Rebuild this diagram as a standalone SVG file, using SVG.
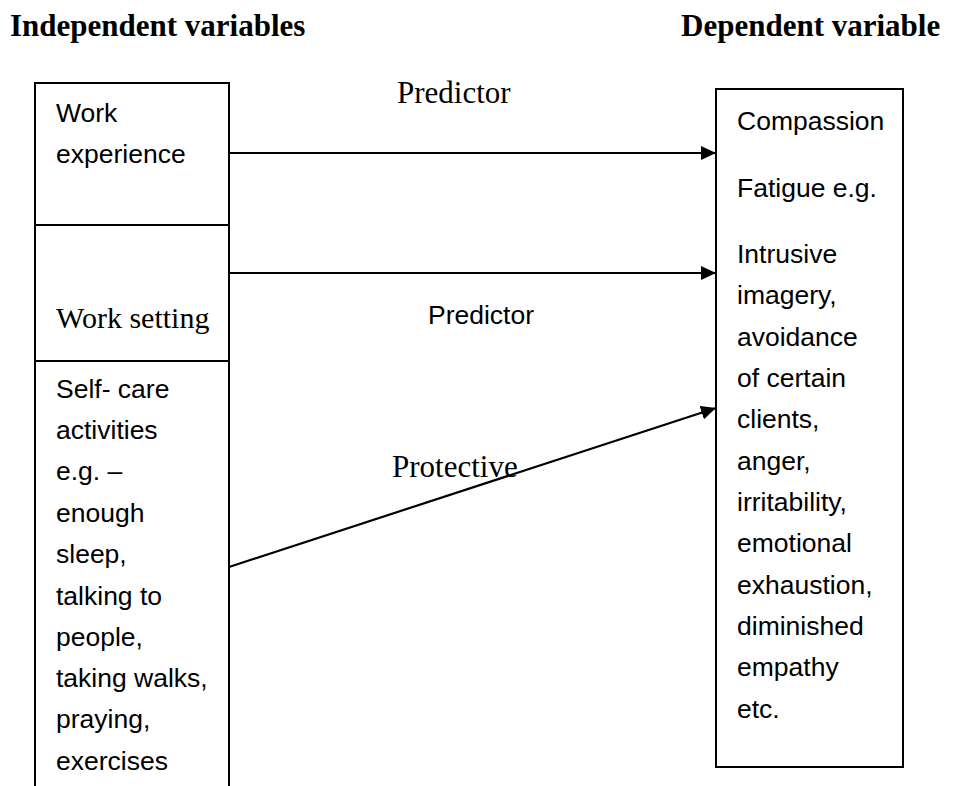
<svg xmlns="http://www.w3.org/2000/svg" width="953" height="786" viewBox="0 0 953 786">
<style>
.hd{font-family:"Liberation Serif","Times New Roman",serif;font-weight:bold;font-size:31px;fill:#000}
.sr{font-family:"Liberation Serif","Times New Roman",serif;font-size:30px;fill:#000}
.lb{font-family:"Liberation Serif","Times New Roman",serif;font-size:31px;fill:#000}
.sn{font-family:"Liberation Sans",Arial,sans-serif;font-size:26.5px;fill:#000}
.box{fill:none;stroke:#000;stroke-width:2}
.con{fill:none;stroke:#000;stroke-width:2.2}
</style>
<defs>
<marker id="ah" markerUnits="userSpaceOnUse" markerWidth="16" markerHeight="14" refX="15" refY="7" orient="auto">
<path d="M0,0 L15,7 L0,14 z" fill="#000"/>
</marker>
</defs>
<rect width="953" height="786" fill="#fff"/>
<g id="headings">
<text class="hd" x="10" y="36">Independent variables</text>
<text class="hd" x="681" y="36">Dependent variable</text>
</g>
<g id="node-left-frame">
<path class="box" d="M35,786 V83 H229 V786"/>
</g>
<g id="node-work-experience">
<line class="box" x1="35" y1="225" x2="229" y2="225"/>
<text class="sn" x="56" y="122">Work</text>
<text class="sn" x="56" y="163">experience</text>
</g>
<g id="node-work-setting">
<line class="box" x1="35" y1="361" x2="229" y2="361"/>
<text class="sr" x="56" y="328">Work setting</text>
</g>
<g id="node-self-care">
<text class="sn" x="56" y="398">Self- care</text>
<text class="sn" x="56" y="439">activities</text>
<text class="sn" x="56" y="480">e.g. –</text>
<text class="sn" x="56" y="522">enough</text>
<text class="sn" x="56" y="563">sleep,</text>
<text class="sn" x="56" y="605">talking to</text>
<text class="sn" x="56" y="646">people,</text>
<text class="sn" x="56" y="687">taking walks,</text>
<text class="sn" x="56" y="728">praying,</text>
<text class="sn" x="56" y="770">exercises</text>
</g>
<g id="node-compassion-fatigue">
<rect class="box" x="716" y="89" width="187" height="678"/>
<text class="sn" x="737" y="130">Compassion</text>
<text class="sn" x="737" y="197">Fatigue e.g.</text>
<text class="sn" x="737" y="263">Intrusive</text>
<text class="sn" x="737" y="304">imagery,</text>
<text class="sn" x="737" y="346">avoidance</text>
<text class="sn" x="737" y="387">of certain</text>
<text class="sn" x="737" y="428">clients,</text>
<text class="sn" x="737" y="470">anger,</text>
<text class="sn" x="737" y="511">irritability,</text>
<text class="sn" x="737" y="552">emotional</text>
<text class="sn" x="737" y="594">exhaustion,</text>
<text class="sn" x="737" y="635">diminished</text>
<text class="sn" x="737" y="676">empathy</text>
<text class="sn" x="737" y="718">etc.</text>
</g>
<g id="connectors">
<line class="con" x1="229" y1="153" x2="716" y2="153" marker-end="url(#ah)"/>
<line class="con" x1="229" y1="273" x2="716" y2="273" marker-end="url(#ah)"/>
<line class="con" x1="229" y1="567" x2="716" y2="408" marker-end="url(#ah)"/>
<text class="lb" x="397" y="103">Predictor</text>
<text class="sn" x="428" y="324">Predictor</text>
<text class="lb" x="392" y="477">Protective</text>
</g>
</svg>
